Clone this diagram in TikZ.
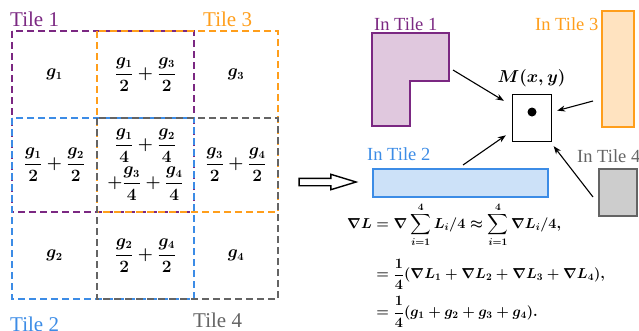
\documentclass[tikz,border=0pt]{standalone}
\usepackage{amsmath}
\usepackage{fontspec}
\setmainfont{Liberation Serif}
\usetikzlibrary{arrows.meta,positioning,shapes.arrows}

\definecolor{tileone}{RGB}{123,40,130}
\definecolor{tiletwo}{RGB}{60,140,230}
\definecolor{tilethree}{RGB}{255,158,27}
\definecolor{tilefour}{RGB}{100,100,100}
\definecolor{fillone}{RGB}{224,200,222}
\definecolor{filltwo}{RGB}{204,225,248}
\definecolor{fillthree}{RGB}{255,227,192}
\definecolor{fillfour}{RGB}{205,205,205}

\newcommand{\cellmath}{\fontsize{16}{19}\selectfont\boldmath}

\begin{document}
\begin{tikzpicture}[x=1pt, y=-1pt,
  tile/.style={dash pattern=on 7pt off 4pt, line width=2.2pt},
  cell/.style={font=\cellmath, inner sep=0pt},
  tilelabel/.style={font=\fontsize{21}{24}\selectfont, anchor=base west, inner sep=0pt},
  inlabel/.style={font=\fontsize{18.5}{22}\selectfont, anchor=base west, inner sep=0pt},
  region/.style={line width=1.6pt},
  arrow/.style={-{Stealth[length=8pt, width=6pt]}, line width=1.1pt}
]
\useasboundingbox (0,0) rectangle (639,330);

% tiles
\draw[tile, tileone] (12,31) rectangle (194,212);
\draw[tile, tilethree] (97,31) rectangle (278,212);
\draw[tile, tiletwo] (12,118) rectangle (194,299);
\draw[tile, tilefour] (97,118) rectangle (278,299);

\node[tilelabel, text=tileone] (tileonelabel) at (10,26) {Tile 1};
\node[tilelabel, text=tilethree] (tilethreelabel) at (203,26) {Tile 3};
\node[tilelabel, text=tiletwo] (tiletwolabel) at (10,331) {Tile 2};
\node[tilelabel, text=tilefour] (tilefourlabel) at (193,327) {Tile 4};

% cells
\node[cell] (gone) at (54.5,74.5) {$g_1$};
\node[cell] (gonethree) at (145.5,74.5) {$\dfrac{g_1}{2}+\dfrac{g_3}{2}$};
\node[cell] (gthree) at (236,74.5) {$g_3$};
\node[cell] (gonetwo) at (54.5,165) {$\dfrac{g_1}{2}+\dfrac{g_2}{2}$};
\node[cell] (gallone) at (145.5,146) {$\dfrac{g_1}{4}+\dfrac{g_2}{4}$};
\node[cell] (galltwo) at (145.5,184) {$+\dfrac{g_3}{4}+\dfrac{g_4}{4}$};
\node[cell] (gthreefour) at (236,165) {$\dfrac{g_3}{2}+\dfrac{g_4}{2}$};
\node[cell] (gtwo) at (54.5,255.5) {$g_2$};
\node[cell] (gtwofour) at (145.5,255.5) {$\dfrac{g_2}{2}+\dfrac{g_4}{2}$};
\node[cell] (gfour) at (236,255.5) {$g_4$};

% big arrow
\node[single arrow, draw, line width=1.4pt, minimum height=57pt, inner sep=3pt,
  single arrow head extend=4pt, single arrow tip angle=34] (implies) at (321.5,182) {};

% regions
\draw[region, draw=tileone, fill=fillone] (372,33) -- (449,33) -- (449,81) -- (410,81) -- (410,126) -- (372,126) -- cycle;
\coordinate (inone) at (453,70);
\node[region, draw=tilethree, fill=fillthree, minimum width=32pt, minimum height=116pt, anchor=north west, inner sep=0pt] (inthree) at (601,10) {};
\node[region, draw=tiletwo, fill=filltwo, minimum width=175pt, minimum height=28pt, anchor=north west, inner sep=0pt] (intwo) at (372,168) {};
\node[region, draw=tilefour, fill=fillfour, minimum width=38pt, minimum height=47pt, anchor=north west, inner sep=0pt] (infour) at (598,168) {};

\node[inlabel, text=tileone] (inonelabel) at (374,30) {In Tile 1};
\node[inlabel, text=tilethree] (inthreelabel) at (535,30) {In Tile 3};
\node[inlabel, text=tiletwo] (intwolabel) at (367,160) {In Tile 2};
\node[inlabel, text=tilefour] (infourlabel) at (577,162) {In Tile 4};

% pixel
\node[draw, thick, minimum width=39pt, minimum height=47pt, inner sep=0pt] (mbox) at (531.5,117.5) {};
\fill (532,112) circle (4.5pt);
\node[font=\fontsize{18}{22}\selectfont\boldmath, above=7pt of mbox, inner sep=0pt] (mlabel) {$M(x,y)$};

\coordinate (fromthree) at (593,101);
\coordinate (fromtwo) at (463,165);
\coordinate (fromfour) at (593,197);
\draw[arrow, shorten >=9pt] (inone) -- (mbox);
\draw[arrow, shorten >=6pt] (fromthree) -- (mbox);
\draw[arrow, shorten >=7pt] (fromtwo) -- (mbox);
\draw[arrow, shorten >=6pt] (fromfour) -- (mbox);

% gradient
\node[font=\fontsize{14}{17}\selectfont\boldmath, anchor=north west, inner sep=0pt] (grad) at (347,202)
  {$\begin{aligned}
  \nabla L &= \nabla\sum_{i=1}^{4} L_i/4 \approx \sum_{i=1}^{4}\nabla L_i/4,\\[8pt]
  &= \frac{1}{4}(\nabla L_1+\nabla L_2+\nabla L_3+\nabla L_4),\\[3pt]
  &= \frac{1}{4}(g_1+g_2+g_3+g_4).
  \end{aligned}$};
\end{tikzpicture}
\end{document}
